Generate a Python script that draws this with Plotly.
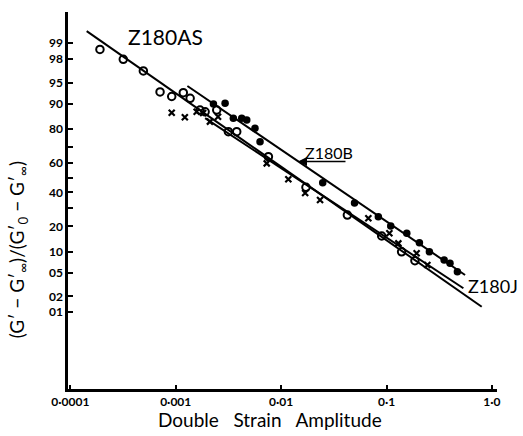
import plotly.graph_objects as go
from statistics import NormalDist

nd = NormalDist()
def probit(p):
    return [nd.inv_cdf(v / 100.0) for v in p]

# Z180AS (open circles)
as_x = [1.91e-4, 3.18e-4, 4.93e-4, 7.10e-4, 9.16e-4, 1.18e-3, 1.37e-3, 1.70e-3, 1.90e-3,
        2.45e-3, 3.16e-3, 3.79e-3, 7.57e-3, 1.72e-2, 4.25e-2, 0.090, 0.139, 0.186]
as_p = [98.68, 97.97, 96.76, 93.10, 92.0, 92.93, 91.53, 87.9, 87.3,
        87.9, 78.7, 78.7, 64.2, 43.4, 25.9, 15.65, 10.0, 7.55]

# Z180B (filled circles)
b_x = [2.28e-3, 2.94e-3, 3.52e-3, 4.23e-3, 4.72e-3, 5.65e-3, 6.31e-3, 2.48e-2, 4.97e-2,
       0.0836, 0.1096, 0.1556, 0.205, 0.255, 0.352, 0.400, 0.470]
b_p = [89.9, 90.1, 84.8, 84.8, 84.1, 80.4, 73.3, 46.5, 33.1,
       25.0, 20.2, 16.8, 13.0, 10.0, 7.72, 6.93, 5.2]

# Z180J (crosses)
j_x = [9.16e-4, 1.22e-3, 1.58e-3, 1.82e-3, 2.11e-3, 2.52e-3, 7.30e-3, 1.17e-2, 1.69e-2,
       2.34e-2, 6.72e-2, 0.1064, 0.1294, 0.193, 0.244]
j_p = [86.96, 85.2, 87.3, 86.85, 83.4, 85.4, 59.8, 48.9, 39.6,
       35.0, 24.1, 16.8, 12.8, 9.55, 6.55]

# fitted lines (end points)
as_line_x = [1.43e-4, 0.80]
as_line_p = [99.44, 1.28]
b_line_x = [1.29e-3, 0.556]
b_line_p = [94.37, 4.62]
j_line_x = [1.90e-3, 0.536]
j_line_p = [84.9, 2.79]

y_ticks = [99, 98, 95, 90, 80, 60, 40, 20, 10, 5, 2, 1]
y_ticktext = ["99", "98", "95", "90", "80", "60", "40", "20", "10", "05", "02", "01"]
y_minor = [70, 50, 30]
x_ticks = [0.0001, 0.001, 0.01, 0.1, 1.0]
x_ticktext = ["0·0001", "0·001", "0·01", "0·1", "1·0"]

fig = go.Figure()
for lx, lp in [(as_line_x, as_line_p), (b_line_x, b_line_p), (j_line_x, j_line_p)]:
    fig.add_trace(go.Scatter(x=lx, y=probit(lp), mode="lines",
                             line=dict(color="black", width=2), showlegend=False))

fig.add_trace(go.Scatter(x=as_x, y=probit(as_p), mode="markers", showlegend=False,
                         marker=dict(symbol="circle-open", size=7.5, color="black",
                                     line=dict(width=2, color="black"))))
fig.add_trace(go.Scatter(x=b_x, y=probit(b_p), mode="markers", showlegend=False,
                         marker=dict(symbol="circle", size=7.5, color="black")))
fig.add_trace(go.Scatter(x=j_x, y=probit(j_p), mode="markers", showlegend=False,
                         marker=dict(symbol="x-thin", size=6, color="black",
                                     line=dict(width=2.2, color="black"))))

font_main = "Lato, DejaVu Sans, sans-serif"

fig.update_layout(
    width=523, height=436,
    margin=dict(l=68, r=26, t=12, b=47),
    paper_bgcolor="white", plot_bgcolor="white",
    font=dict(family=font_main, color="black"),
    xaxis=dict(type="log", range=[-4.022, 0.048], tickvals=x_ticks, ticktext=x_ticktext,
               showgrid=False, zeroline=False, showline=True, linecolor="black",
               linewidth=2.5, ticks="inside", ticklen=4, tickwidth=1.5, tickcolor="black",
               tickfont=dict(size=12, weight="bold")),
    yaxis=dict(range=[-3.656, 2.867], tickvals=probit(y_ticks), ticktext=y_ticktext,
               showgrid=False, zeroline=False, showline=True, linecolor="black",
               linewidth=2.5, ticks="inside", ticklen=5, tickwidth=1.5, tickcolor="black",
               tickfont=dict(size=12, weight="bold"),
               minor=dict(tickvals=probit(y_minor), ticks="inside", ticklen=5,
                          tickwidth=1.5, tickcolor="black", showgrid=False)),
)

fig.add_annotation(text="Double   Strain   Amplitude", xref="paper", yref="paper",
                   x=0.471, y=-0.08, xanchor="center", yanchor="middle", showarrow=False,
                   font=dict(size=19))
fig.add_annotation(text="(G′ − G′<sub>∞</sub>)/(G′<sub>0</sub> − G′<sub>∞</sub>)",
                   xref="paper", yref="paper", x=-0.117, y=0.37, textangle=-90,
                   xanchor="center", yanchor="middle",
                   showarrow=False, font=dict(size=19))
fig.add_annotation(text="Z180AS", xref="paper", yref="paper", x=0.2284, y=0.9363,
                   xanchor="center", yanchor="middle", showarrow=False, font=dict(size=21))
fig.add_annotation(text="Z180B", xref="paper", yref="paper", x=0.608, y=0.626,
                   xanchor="center", yanchor="middle", showarrow=False, font=dict(size=16))
fig.add_annotation(text="Z180J", xref="paper", yref="paper", x=0.9907, y=0.273,
                   xanchor="center", yanchor="middle", showarrow=False, font=dict(size=18))
fig.add_annotation(text="", xref="paper", yref="paper", x=0.5361, y=0.6034,
                   ax=49, ay=0, showarrow=True, arrowhead=2, arrowsize=1.2,
                   arrowwidth=1.5, arrowcolor="black")

fig.write_html("out.html")
